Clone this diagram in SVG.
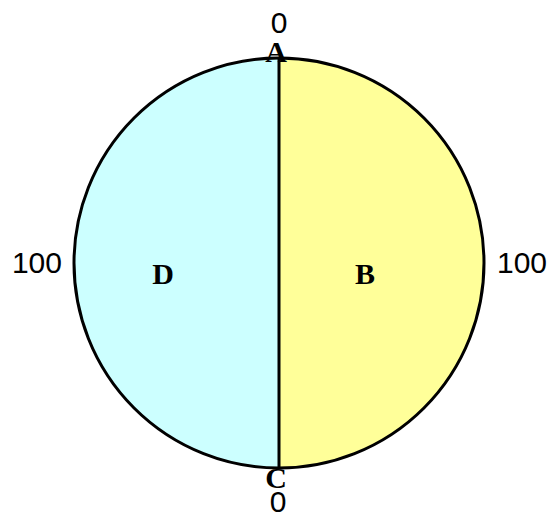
<svg xmlns="http://www.w3.org/2000/svg" width="549" height="512" viewBox="0 0 549 512">
<style>
.num{font-family:"Liberation Sans",Arial,sans-serif;font-size:30px;fill:#000}
.lbl{font-family:"Liberation Serif","Times New Roman",serif;font-size:30px;font-weight:bold;fill:#000}
.edge{stroke:#000;stroke-width:3;fill:none}
</style>
<rect width="549" height="512" fill="#fff"/>
<g id="D">
<path d="M279,58 A205,205 0 0 0 279,468 Z" fill="#CCFFFF"/>
<text class="lbl" x="163" y="284" text-anchor="middle">D</text>
</g>
<g id="B">
<path d="M279,58 A205,205 0 0 1 279,468 Z" fill="#FFFF99"/>
<text class="lbl" x="365" y="284" text-anchor="middle">B</text>
</g>
<g id="connectors">
<circle class="edge" cx="279" cy="263" r="205"/>
<line class="edge" x1="279" y1="58" x2="279" y2="468"/>
</g>
<g id="A">
<text class="lbl" x="276" y="62" text-anchor="middle">A</text>
</g>
<g id="C">
<text class="lbl" x="276" y="488" text-anchor="middle">C</text>
</g>
<g id="scale">
<text class="num" x="279" y="33" text-anchor="middle">0</text>
<text class="num" x="278" y="512" text-anchor="middle">0</text>
<text class="num" x="62" y="273" text-anchor="end">100</text>
<text class="num" x="497" y="273">100</text>
</g>
</svg>
